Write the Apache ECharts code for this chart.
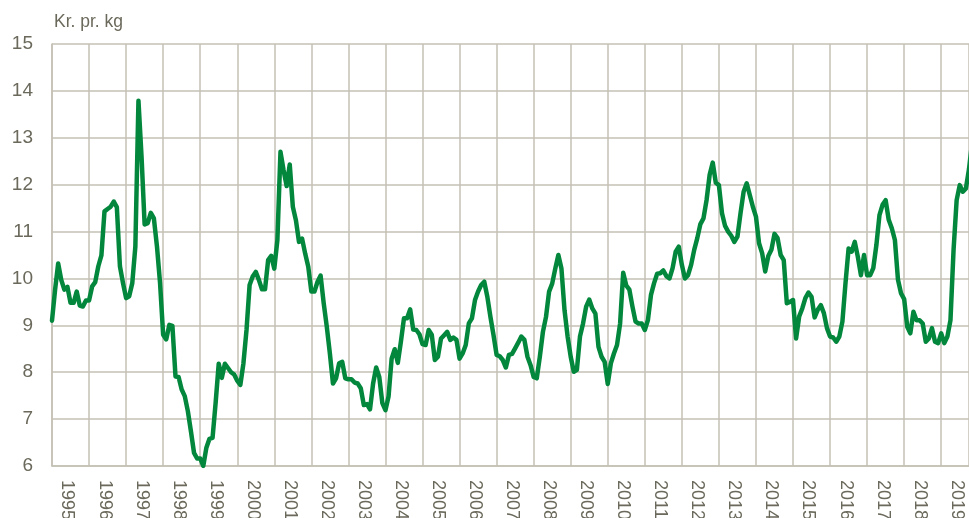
<!DOCTYPE html>
<html>
<head>
<meta charset="utf-8">
<script src="https://cdn.jsdelivr.net/npm/echarts@6/dist/echarts.min.js"></script>
<style>
html,body{margin:0;padding:0;background:#fff;}
#chart{width:969px;height:518px;}
</style>
</head>
<body>
<div id="chart"></div>
<script>
// Monthly prices (kr. pr. kg), starting January 1995
const startYear = 1995;
const yearLabels = ['1995','1996','1997','1998','1999','2000','2001','2002','2003','2004','2005','2006','2007','2008','2009','2010','2011','2012','2013','2014','2015','2016','2017','2018','2019'];
const yTicks = [6,7,8,9,10,11,12,13,14,15];
const prices = [
  // 1995
  9.1, 9.76, 10.32, 9.97, 9.76, 9.82, 9.48, 9.48, 9.72, 9.42, 9.4, 9.53,
  // 1996
  9.53, 9.83, 9.92, 10.26, 10.49, 11.43, 11.48, 11.53, 11.64, 11.52, 10.26, 9.9,
  // 1997
  9.58, 9.62, 9.9, 10.68, 13.79, 12.6, 11.15, 11.18, 11.4, 11.28, 10.68, 9.9,
  // 1998
  8.8, 8.7, 9.01, 8.99, 7.91, 7.9, 7.63, 7.49, 7.17, 6.74, 6.28, 6.16,
  // 1999
  6.16, 6.0, 6.39, 6.58, 6.6, 7.35, 8.18, 7.88, 8.18, 8.09, 8.0, 7.95,
  // 2000
  7.82, 7.73, 8.19, 8.9, 9.86, 10.04, 10.14, 9.97, 9.77, 9.77, 10.39, 10.48,
  // 2001
  10.21, 10.82, 12.7, 12.31, 11.97, 12.43, 11.53, 11.24, 10.78, 10.85, 10.53, 10.25,
  // 2002
  9.72, 9.72, 9.93, 10.06, 9.47, 8.97, 8.4, 7.76, 7.87, 8.19, 8.22, 7.87,
  // 2003
  7.85, 7.85, 7.78, 7.76, 7.66, 7.3, 7.32, 7.21, 7.76, 8.1, 7.9, 7.34,
  // 2004
  7.19, 7.48, 8.29, 8.49, 8.2, 8.65, 9.15, 9.15, 9.34, 8.91, 8.9, 8.81,
  // 2005
  8.6, 8.58, 8.9, 8.8, 8.26, 8.33, 8.72, 8.79, 8.86, 8.69, 8.74, 8.69,
  // 2006
  8.29, 8.4, 8.58, 9.04, 9.15, 9.54, 9.72, 9.86, 9.93, 9.61, 9.18, 8.79,
  // 2007
  8.37, 8.34, 8.26, 8.1, 8.37, 8.39, 8.51, 8.63, 8.76, 8.69, 8.33, 8.15,
  // 2008
  7.9, 7.87, 8.33, 8.86, 9.18, 9.72, 9.89, 10.21, 10.5, 10.21, 9.32, 8.76,
  // 2009
  8.33, 8.01, 8.05, 8.76, 9.04, 9.4, 9.55, 9.36, 9.25, 8.54, 8.33, 8.22,
  // 2010
  7.75, 8.19, 8.4, 8.58, 9.04, 10.12, 9.85, 9.76, 9.4, 9.08, 9.04, 9.04,
  // 2011
  8.9, 9.11, 9.65, 9.9, 10.1, 10.11, 10.17, 10.05, 10.0, 10.22, 10.57, 10.68,
  // 2012
  10.29, 10.0, 10.07, 10.29, 10.61, 10.86, 11.16, 11.28, 11.67, 12.21, 12.47, 12.04,
  // 2013
  11.99, 11.39, 11.12, 11.0, 10.91, 10.78, 10.89, 11.39, 11.85, 12.03, 11.78, 11.53,
  // 2014
  11.32, 10.75, 10.54, 10.15, 10.48, 10.61, 10.95, 10.86, 10.5, 10.39, 9.47, 9.5,
  // 2015
  9.54, 8.72, 9.19, 9.36, 9.58, 9.7, 9.61, 9.17, 9.33, 9.43, 9.26, 8.94,
  // 2016
  8.76, 8.74, 8.65, 8.76, 9.08, 9.9, 10.64, 10.57, 10.78, 10.46, 10.07, 10.5,
  // 2017
  10.07, 10.07, 10.22, 10.71, 11.35, 11.57, 11.67, 11.25, 11.07, 10.82, 9.97, 9.68,
  // 2018
  9.56, 8.97, 8.83, 9.29, 9.11, 9.11, 9.04, 8.65, 8.72, 8.94, 8.65, 8.62,
  // 2019
  8.83, 8.62, 8.76, 9.11, 10.61, 11.67, 11.99, 11.85, 11.92, 12.33, 12.9
];
const unitLabel = 'Kr. pr. kg';

const seriesData = prices.map((v, i) => [i, v]);
const labelPositions = yearLabels.map((y, k) => k * 12 + 5);

const textColor = '#6b695b';
const gridColor = '#c4c1b4';
const fontFamily = "'Liberation Sans', Arial, sans-serif";

const chart = echarts.init(document.getElementById('chart'), null, {renderer: 'canvas'});
chart.setOption({
  animation: false,
  backgroundColor: '#ffffff',
  title: {
    text: unitLabel,
    left: 54,
    top: 13,
    padding: 0,
    textStyle: {color: textColor, fontSize: 17.5, fontWeight: 'normal', fontFamily: fontFamily}
  },
  grid: {left: 52, right: 0, top: 44, bottom: 52, containLabel: false, outerBoundsMode: 'none'},
  xAxis: {
    type: 'value',
    min: 0,
    max: 297,
    interval: 12,
    axisLine: {show: true, lineStyle: {color: gridColor, width: 1.5}},
    axisTick: {show: false},
    splitLine: {show: true, lineStyle: {color: gridColor, width: 1.5}},
    axisLabel: {
      show: true,
      customValues: labelPositions,
      rotate: -90,
      margin: 14,
      color: textColor,
      fontSize: 18,
      fontFamily: fontFamily,
      hideOverlap: false,
      formatter: function (v) {
        const k = Math.round((v - 5) / 12);
        return yearLabels[k] !== undefined ? yearLabels[k] : '';
      }
    }
  },
  yAxis: {
    type: 'value',
    min: yTicks[0],
    max: yTicks[yTicks.length - 1],
    interval: 1,
    axisLine: {show: true, lineStyle: {color: gridColor, width: 1.5}},
    axisTick: {show: false},
    splitLine: {show: true, lineStyle: {color: gridColor, width: 1.5}},
    axisLabel: {color: textColor, fontSize: 19, margin: 19, fontFamily: fontFamily}
  },
  series: [{
    type: 'line',
    data: seriesData,
    showSymbol: false,
    symbol: 'none',
    clip: true,
    lineStyle: {color: '#03873d', width: 4.5, join: 'round', cap: 'round'},
    itemStyle: {color: '#03873d'}
  }]
});
</script>
</body>
</html>
